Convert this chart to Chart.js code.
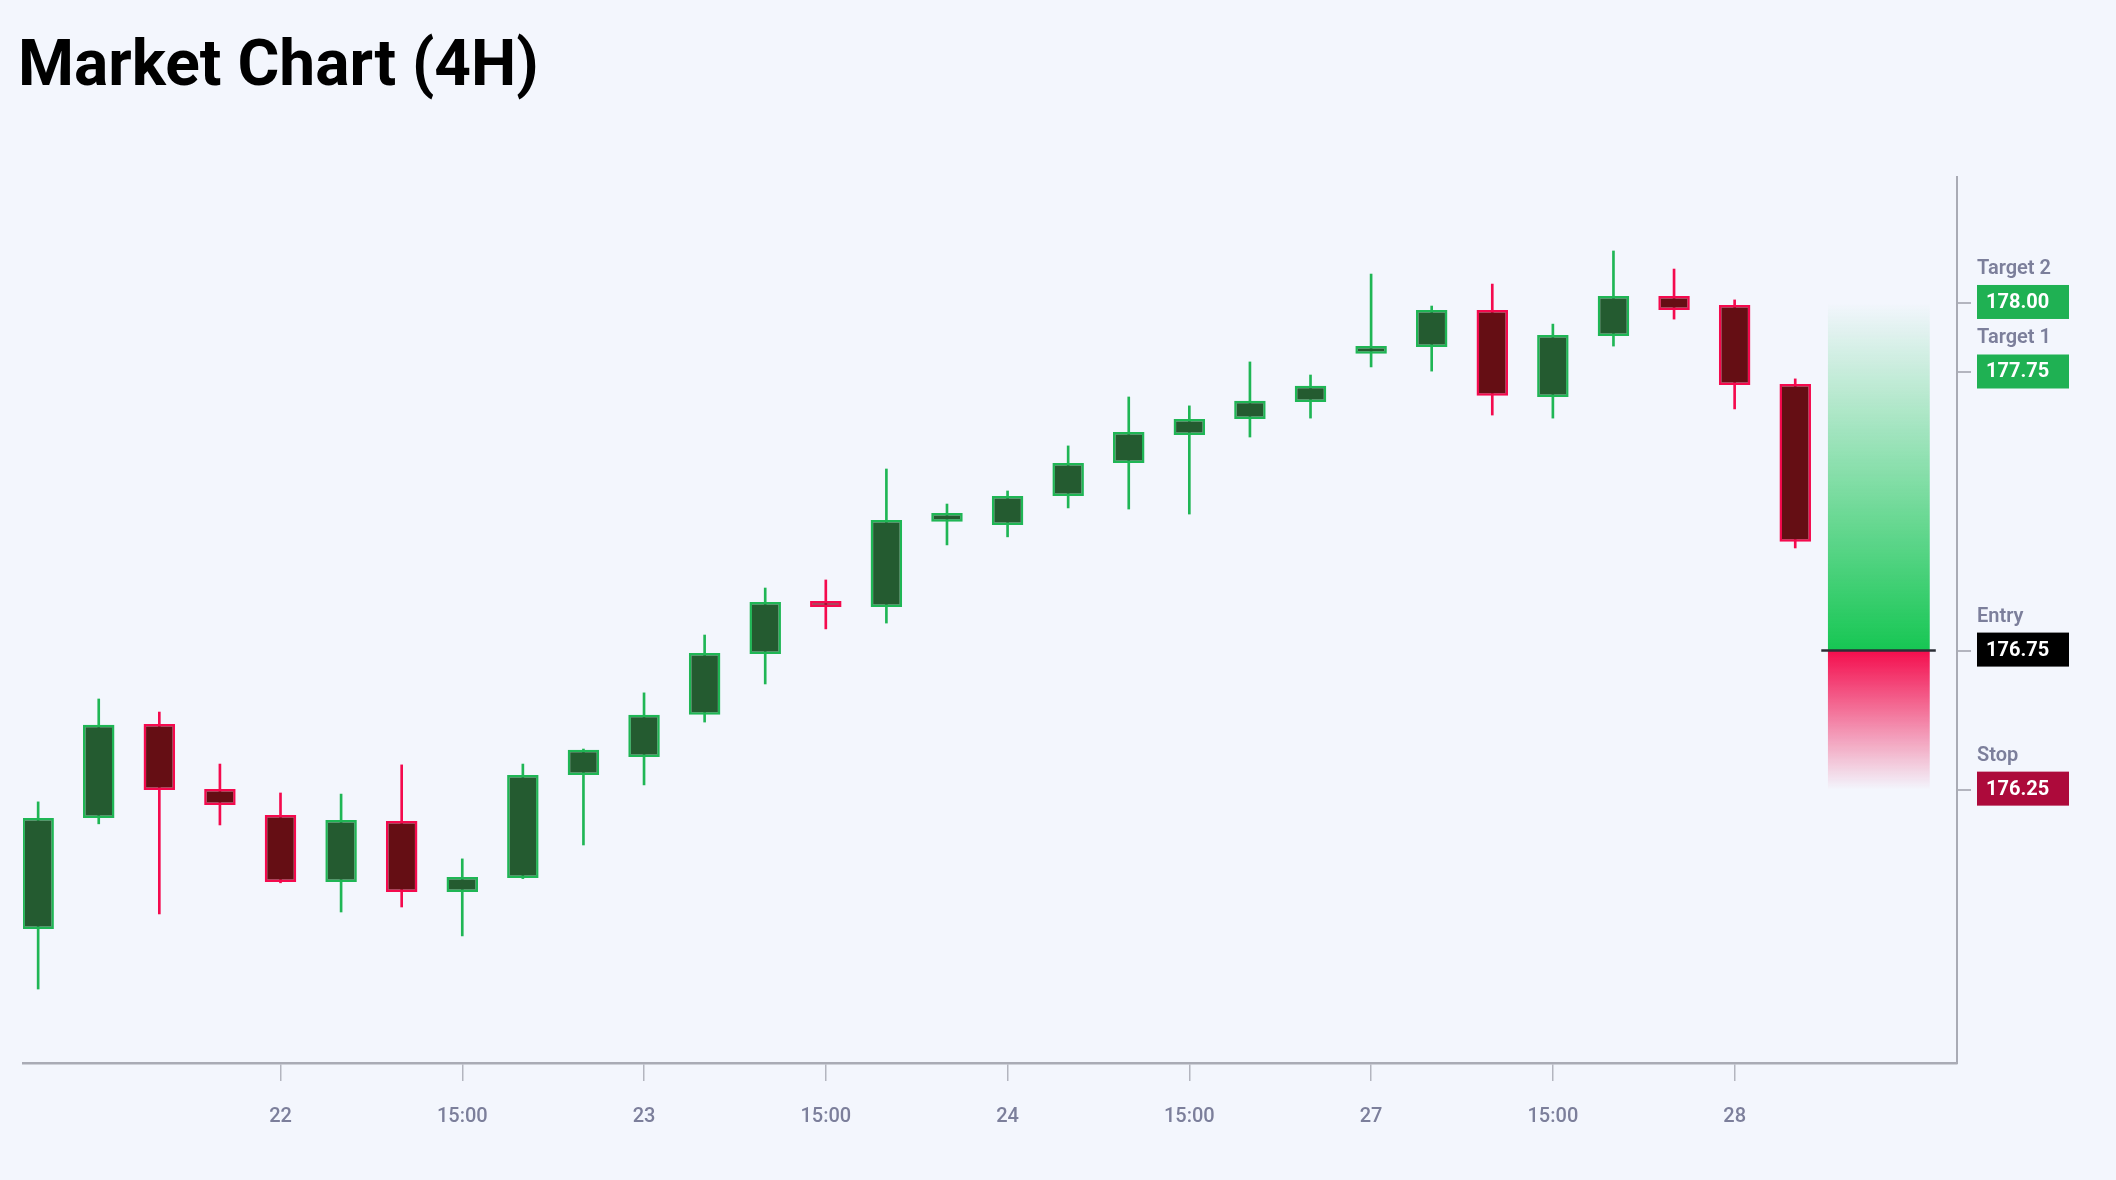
<!DOCTYPE html>
<html>
<head>
<meta charset="utf-8">
<script src="https://cdn.jsdelivr.net/npm/chart.js@4.4.1/dist/chart.umd.min.js"></script>
<style>
  html, body { margin: 0; padding: 0; background: #f3f6fd; }
  #wrap { position: relative; width: 2116px; height: 1180px; }
  #title { position: absolute; left: 18px; top: 32px; margin: 0; font-family: Roboto, sans-serif; font-weight: 700; font-size: 64px; line-height: 64px; color: #000; white-space: nowrap; }
  #c { position: absolute; left: 0; top: 0; }
</style>
</head>
<body>
<div id="wrap">
  <canvas id="c" width="2116" height="1180"></canvas>
  <h1 id="title">Market Chart (4H)</h1>
</div>
<script>
// ---- data ----
const opens  = [175.749,176.148,176.486,176.252,176.159,175.918,176.137,175.882,175.932,176.303,176.367,176.519,176.738,176.928,176.907,177.213,177.202,177.306,177.425,177.525,177.583,177.644,177.817,177.842,177.975,177.662,177.881,178.025,177.993,177.709];
const highs  = [176.206,176.576,176.529,176.342,176.238,176.234,176.339,176.001,176.342,176.396,176.598,176.806,176.975,177.004,177.403,177.277,177.324,177.486,177.662,177.630,177.788,177.741,178.104,177.989,178.068,177.924,178.187,178.122,178.011,177.727];
const lows   = [175.533,176.127,175.803,176.123,175.915,175.810,175.828,175.724,175.930,176.051,176.267,176.493,176.630,176.828,176.849,177.130,177.159,177.263,177.259,177.241,177.518,177.586,177.770,177.755,177.597,177.586,177.845,177.942,177.619,177.119];
const closes = [176.148,176.483,176.249,176.195,175.918,176.141,175.882,175.936,176.303,176.393,176.519,176.741,176.925,176.907,177.220,177.245,177.306,177.425,177.536,177.583,177.648,177.702,177.845,177.975,177.666,177.885,178.025,177.975,177.705,177.141];

const xTickIndices = [4, 7, 10, 13, 16, 19, 22, 25, 28];
const xTickLabels  = ['22', '15:00', '23', '15:00', '24', '15:00', '27', '15:00', '28'];

const levelLabels = ['Target 2', 'Target 1', 'Entry', 'Stop'];
const levelValues = [178.00, 177.75, 176.75, 176.25];
const levelColors = ['#1fb153', '#1fb153', '#000000', '#ad0a3b'];

const entryPrice = 176.75, targetPrice = 178.00, stopPrice = 176.25;
const positionCenter = 30.38;      // in candle-index units
const positionSlots = 1.68;        // width in candle slots
const entryLineFrom = 29.43, entryLineTo = 31.32;

const xMin = -0.25, xMax = 31.67;
const yMin = 175.267, yMax = 178.453;

// ---- styles ----
const UP_FILL = '#245b30', UP_LINE = '#1fb655';
const DN_FILL = '#650e14', DN_LINE = '#f40a4e';
const AXIS = '#a9abb5', TICK = '#b3b5bf', LABEL = '#7c7f9b';
const isUp = i => closes[i] >= opens[i];

const levelPlugin = {
  id: 'levels',
  afterDraw(chart) {
    const y = chart.scales.y; const c = chart.ctx;
    const x0 = y.left + 20;
    c.save();
    levelValues.forEach((v, i) => {
      const py = y.getPixelForValue(v);
      c.font = '600 20px Roboto';
      c.fillStyle = LABEL;
      c.textBaseline = 'alphabetic';
      c.textAlign = 'left';
      c.fillText(levelLabels[i], x0, py - 29);
      c.fillStyle = levelColors[i];
      c.fillRect(x0, py - 18, 92, 34);
      c.font = '700 20px Roboto';
      c.fillStyle = '#ffffff';
      c.textBaseline = 'middle';
      c.fillText(v.toFixed(2), x0 + 9, py);
    });
    c.restore();
  }
};

function gradientFill(ctx, fromVal, toVal, color) {
  const chart = ctx.chart; const y = chart.scales.y;
  if (!y || !chart.chartArea) return 'rgba(0,0,0,0)';
  const g = chart.ctx.createLinearGradient(0, y.getPixelForValue(fromVal), 0, y.getPixelForValue(toVal));
  g.addColorStop(0, 'rgba(' + color + ',1)');
  g.addColorStop(1, 'rgba(' + color + ',0)');
  return g;
}

function build() {
  new Chart(document.getElementById('c'), {
    data: {
      datasets: [
        {
          type: 'bar', label: 'body', order: 1, grouped: false,
          data: opens.map((o, i) => ({ x: i, y: [o, closes[i]] })),
          backgroundColor: ctx => isUp(ctx.dataIndex) ? UP_FILL : DN_FILL,
          borderColor: ctx => isUp(ctx.dataIndex) ? UP_LINE : DN_LINE,
          borderWidth: 2.5, borderSkipped: false,
          categoryPercentage: 1, barPercentage: 0.52
        },
        {
          type: 'bar', label: 'wick', order: 2, grouped: false,
          data: lows.map((l, i) => ({ x: i, y: [l, highs[i]] })),
          backgroundColor: ctx => isUp(ctx.dataIndex) ? UP_LINE : DN_LINE,
          borderWidth: 0, barThickness: 2
        },
        {
          type: 'bar', label: 'reward', order: 3, grouped: false,
          data: [{ x: positionCenter, y: [entryPrice, targetPrice] }],
          backgroundColor: ctx => gradientFill(ctx, entryPrice, targetPrice, '22,198,83'),
          borderWidth: 0, categoryPercentage: 1, barPercentage: positionSlots
        },
        {
          type: 'bar', label: 'risk', order: 3, grouped: false,
          data: [{ x: positionCenter, y: [stopPrice, entryPrice] }],
          backgroundColor: ctx => gradientFill(ctx, entryPrice, stopPrice, '243,13,77'),
          borderWidth: 0, categoryPercentage: 1, barPercentage: positionSlots
        },
        {
          type: 'line', label: 'entry', order: 0,
          data: [{ x: entryLineFrom, y: entryPrice }, { x: entryLineTo, y: entryPrice }],
          borderColor: '#2b2e36', borderWidth: 2.5, pointRadius: 0, fill: false
        }
      ]
    },
    options: {
      responsive: false, animation: false,
      layout: { padding: { left: 23, top: 177, right: 0, bottom: 0 } },
      plugins: { legend: { display: false }, tooltip: { enabled: false }, title: { display: false } },
      scales: {
        x: {
          type: 'linear', min: xMin, max: xMax, offset: false,
          afterBuildTicks: s => { s.ticks = xTickIndices.map(v => ({ value: v })); },
          afterFit: s => { s.height = 117; },
          ticks: {
            autoSkip: false, maxRotation: 0, padding: 24, color: LABEL,
            font: { family: 'Roboto', size: 20, weight: '500' },
            callback: (v, i) => xTickLabels[i]
          },
          grid: { offset: false, drawOnChartArea: false, drawTicks: true, tickLength: 18, color: TICK, lineWidth: 1.5 },
          border: { display: true, color: AXIS, width: 2.5 }
        },
        y: {
          type: 'linear', position: 'right', min: yMin, max: yMax,
          afterBuildTicks: s => { s.ticks = levelValues.map(v => ({ value: v })); },
          afterFit: s => { s.width = 159; },
          ticks: { display: true, callback: () => '', padding: 0 },
          grid: { drawOnChartArea: false, drawTicks: true, tickLength: 14, color: TICK, lineWidth: 2 },
          border: { display: true, color: AXIS, width: 2 }
        }
      }
    },
    plugins: [levelPlugin]
  });
}

const fontsReady = document.fonts && document.fonts.load
  ? Promise.all([document.fonts.load('700 20px Roboto'), document.fonts.load('600 20px Roboto'), document.fonts.load('500 20px Roboto')]).catch(() => {})
  : Promise.resolve();
fontsReady.then(build, build);
</script>
</body>
</html>
